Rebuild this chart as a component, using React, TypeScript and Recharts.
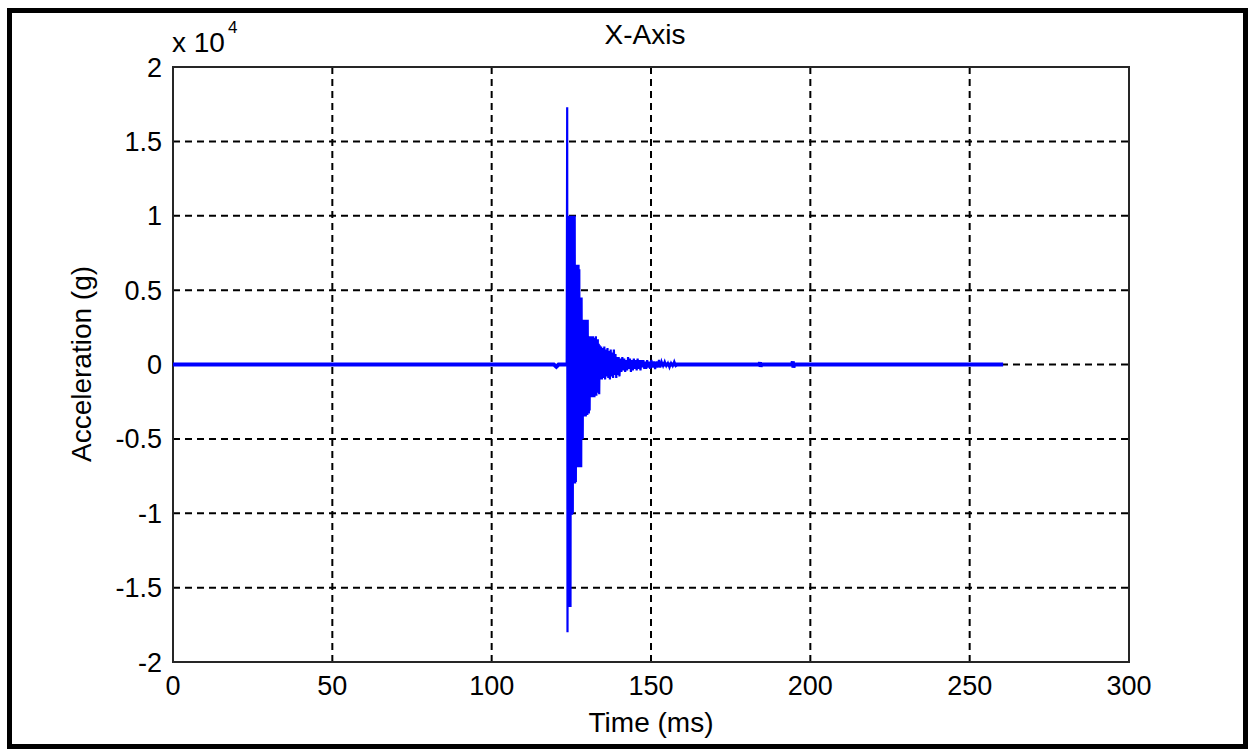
import React from 'react';
import {
  LineChart,
  Line,
  XAxis,
  YAxis,
  CartesianGrid,
  ReferenceArea,
} from 'recharts';

// axis ticks
const timeTicks = [0, 50, 100, 150, 200, 250, 300];
const accelTicks = [-20000, -15000, -10000, -5000, 0, 5000, 10000, 15000, 20000];

// quiet part of the record (noise floor drawn as a thick trace)
const quietTime = [0, 119.5, 120.3, 121, 184.0, 184.2, 184.4, 184.6, 194.3, 194.5, 194.7, 194.9, 260.5];
const quietAccel = [0, 0, -150, 0, 0, 150, -150, 0, 0, 200, -200, 0, 0];

// impact burst: [time ms, acceleration g]
const burstSamples: [number, number][] = [
  [123.55, 0], [123.7, 17300], [123.8, -18000], [123.92, 9900], [124.02, -16300],
  [124.14, 10000], [124.26, -16300], [124.38, 9800], [124.5, -16200], [124.62, 10000],
  [124.74, -16300], [124.86, 9900], [124.98, -10100], [125.1, 10000], [125.22, -10100],
  [125.34, 9700], [125.46, -10000], [125.58, 10000], [125.7, -8000], [125.82, 9900],
  [125.94, -8000], [126.06, 10000], [126.18, -8000], [126.3, 6700], [126.42, -7900],
  [126.54, 6600], [126.66, -6900], [126.78, 6700], [126.9, -6900], [127.02, 6500],
  [127.14, -6800], [127.26, 6700], [127.38, -6900], [127.5, 6400], [127.62, -6900],
  [127.74, 4500], [127.86, -6800], [127.98, 4400], [128.1, -6900], [128.22, 4500],
  [128.34, -5000], [128.46, 3000], [128.58, -5000], [128.7, 3000], [128.82, -3500],
  [128.94, 2900], [129.06, -3500], [129.18, 3000], [129.3, -3400], [129.42, 2800],
  [129.54, -3500], [129.66, 3000], [129.78, -3300], [129.9, 2700], [130.02, -3400],
  [130.14, 3000], [130.26, -3200], [130.38, 1900], [130.5, -3300], [130.62, 1900],
  [130.74, -3100], [130.9, 1800], [131.05, -2200], [131.2, 1900], [131.35, -2100],
  [131.5, 1700], [131.65, -2200], [131.8, 1900], [131.95, -2000], [132.1, 1600],
  [132.25, -2200], [132.4, 1800], [132.55, -1800], [132.7, 1900], [132.85, -2100],
  [133.0, 1500], [133.15, -1900], [133.3, 1700], [133.45, -1600], [133.6, 1400],
  [133.75, -2000], [133.9, 1300], [134.1, -1000], [134.35, 1200], [134.6, -1000],
  [134.85, 1100], [135.1, -900], [135.35, 1200], [135.6, -1000], [135.85, 1000],
  [136.1, -800], [136.35, 1100], [136.6, -900], [136.85, 900], [137.1, -1000],
  [137.35, 1000], [137.6, -800], [137.85, 800], [138.1, -900], [138.35, 1000],
  [138.6, -700], [138.85, 700], [139.1, -900], [139.35, 500], [139.6, -700],
  [139.85, 500], [140.1, -800], [140.4, 400], [140.7, -500], [141.0, 500],
  [141.3, -400], [141.6, 400], [141.9, -500], [142.2, 300], [142.5, -400],
  [142.8, 500], [143.1, -300], [143.4, 400], [143.7, -500], [144.0, 300],
  [144.3, -400], [144.6, 400], [144.9, -300], [145.2, 300], [145.5, -400],
  [145.8, 400], [146.1, -300], [146.4, 300], [146.7, -400], [147.0, 300],
  [147.3, -200], [147.6, 300], [147.9, -300], [148.2, 200], [148.5, -300],
  [148.8, 300], [149.1, -200], [149.4, 200], [149.7, -300], [150.1, 300],
  [150.5, -200], [150.9, 200], [151.3, -300], [151.7, 200], [152.1, -200],
  [152.5, 300], [152.9, -200], [153.3, 200], [153.8, -100], [154.3, 200],
  [154.8, -100], [155.3, 100], [155.8, -200], [156.3, 100], [156.8, -100],
  [157.3, 200], [157.8, -100], [158.3, 0],
];

const quietData = quietTime.map((t, i) => ({ t, a: quietAccel[i] }));
const burstData = burstSamples.map(([t, a]) => ({ t, a }));

const FONT = '"Liberation Sans", Arial, sans-serif';
const tickStyle = { fontFamily: FONT, fontSize: 27, fill: '#000' };

export default function App() {
  return (
    <div style={{ position: 'absolute', left: 0, top: 0, width: 1248, height: 749, background: '#fff', fontFamily: FONT, color: '#000' }}>
      {/* outer frame */}
      <div style={{ position: 'absolute', left: 7, top: 8, width: 1241, height: 741, border: '5px solid #000', boxSizing: 'border-box' }} />

      <div style={{ position: 'absolute', left: 0, top: 0 }}>
        <LineChart width={1248} height={749} margin={{ top: 67, right: 119, left: 113, bottom: 47 }}>
          <CartesianGrid stroke="#000" strokeWidth={2} strokeDasharray="7 5" />
          <XAxis
            type="number"
            dataKey="t"
            domain={[0, 300]}
            ticks={timeTicks}
            height={40}
            axisLine={false}
            tickLine={false}
            tickSize={0}
            tickMargin={14}
            tick={tickStyle}
            interval={0}
          />
          <YAxis
            type="number"
            dataKey="a"
            domain={[-20000, 20000]}
            ticks={accelTicks}
            width={60}
            axisLine={false}
            tickLine={false}
            tickSize={0}
            tickMargin={11}
            tick={tickStyle}
            interval={0}
            tickFormatter={(v: number) => String(v / 10000)}
          />
          <ReferenceArea x1={0} x2={300} y1={-20000} y2={20000} fill="none" fillOpacity={0} stroke="#262626" strokeWidth={2} />
          <Line data={quietData} dataKey="a" type="linear" stroke="#0000ff" strokeWidth={4} dot={false} isAnimationActive={false} />
          <Line data={burstData} dataKey="a" type="linear" stroke="#0000ff" strokeWidth={2.2} dot={false} isAnimationActive={false} />
        </LineChart>
      </div>

      {/* titles */}
      <div style={{ position: 'absolute', left: 495, top: 21, width: 300, textAlign: 'center', fontSize: 28, lineHeight: '28px' }}>X-Axis</div>
      <div style={{ position: 'absolute', left: 501, top: 709, width: 300, textAlign: 'center', fontSize: 28, lineHeight: '28px' }}>Time (ms)</div>
      <div style={{ position: 'absolute', left: 82 - 150, top: 364 - 14, width: 300, textAlign: 'center', fontSize: 28, lineHeight: '28px', transform: 'rotate(-90deg)' }}>Acceleration (g)</div>
      <div style={{ position: 'absolute', left: 172, top: 29, fontSize: 28, lineHeight: '28px', whiteSpace: 'nowrap' }}>x 10</div>
      <div style={{ position: 'absolute', left: 228, top: 19, fontSize: 17, lineHeight: '17px' }}>4</div>
    </div>
  );
}
